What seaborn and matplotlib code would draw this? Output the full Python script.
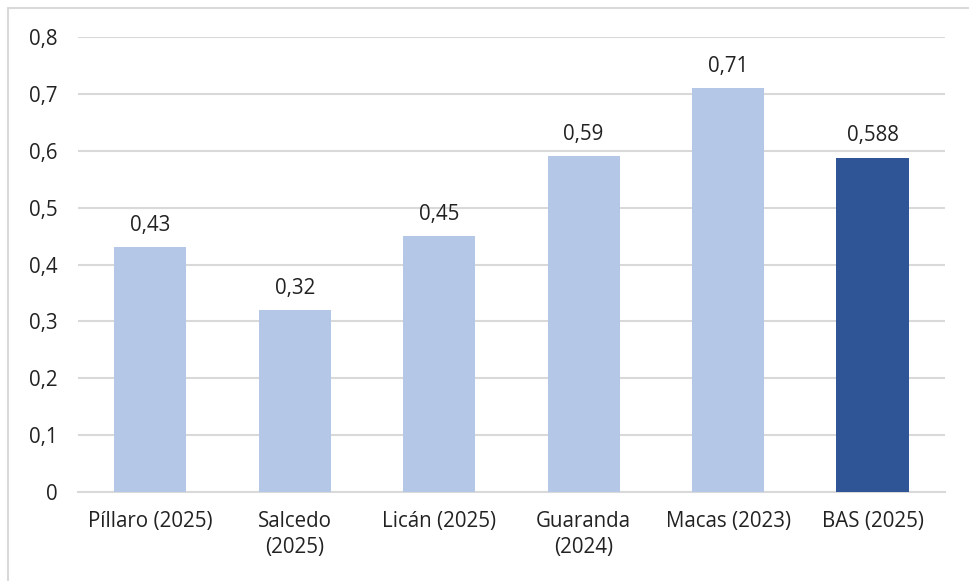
import matplotlib
matplotlib.use("Agg")
import matplotlib.pyplot as plt
import matplotlib.patches as mpatches
import pandas as pd
import seaborn as sns

categories = ["Píllaro (2025)", "Salcedo\n(2025)", "Licán (2025)", "Guaranda\n(2024)", "Macas (2023)", "BAS (2025)"]
values = [0.43, 0.32, 0.45, 0.59, 0.71, 0.588]
value_labels = ["0,43", "0,32", "0,45", "0,59", "0,71", "0,588"]
bar_colors = ["#B4C7E7", "#B4C7E7", "#B4C7E7", "#B4C7E7", "#B4C7E7", "#2F5597"]
y_ticks = [0, 0.1, 0.2, 0.3, 0.4, 0.5, 0.6, 0.7, 0.8]

df = pd.DataFrame({"cat": categories, "val": values})

sns.set_style("white")
plt.rcParams["font.family"] = ["Open Sans", "DejaVu Sans"]

fig = plt.figure(figsize=(9.69, 5.81), dpi=100)
ax = fig.add_axes([0.0805, 0.1532, 0.8945, 0.7831])

sns.barplot(data=df, x="cat", y="val", hue="cat", palette=bar_colors,
            legend=False, width=0.5, saturation=1, linewidth=0, ax=ax, zorder=3)

ax.set_ylim(0, 0.8)
ax.set_xlim(-0.5, 5.5)
ax.set_yticks(y_ticks)
ax.set_yticklabels([("%.1f" % t).replace(".", ",") if t else "0" for t in y_ticks])
ax.grid(axis="y", color="#D9D9D9", linewidth=1.5, zorder=0)
ax.set_xlabel("")
ax.set_ylabel("")
for s in ["top", "right", "left"]:
    ax.spines[s].set_visible(False)
ax.spines["bottom"].set_color("#D9D9D9")
ax.spines["bottom"].set_linewidth(1.5)
ax.tick_params(axis="both", length=0, labelsize=14.8, colors="#222222")
ax.tick_params(axis="y", pad=15)
ax.tick_params(axis="x", pad=14)
for lbl in ax.get_xticklabels():
    lbl.set_linespacing(1.3)

for i, (v, lab) in enumerate(zip(values, value_labels)):
    ax.annotate(lab, (i, v), xytext=(0, 8), textcoords="offset points",
                ha="center", va="bottom", fontsize=14.8, color="#222222")

# chart frame
fig.patches.append(mpatches.Rectangle((8 / 969, -0.02), 1.0, 1 - 8 / 581 + 0.02,
                                      transform=fig.transFigure, fill=False,
                                      edgecolor="#D9D9D9", linewidth=1.5))

fig.savefig("out.png", dpi=100)
